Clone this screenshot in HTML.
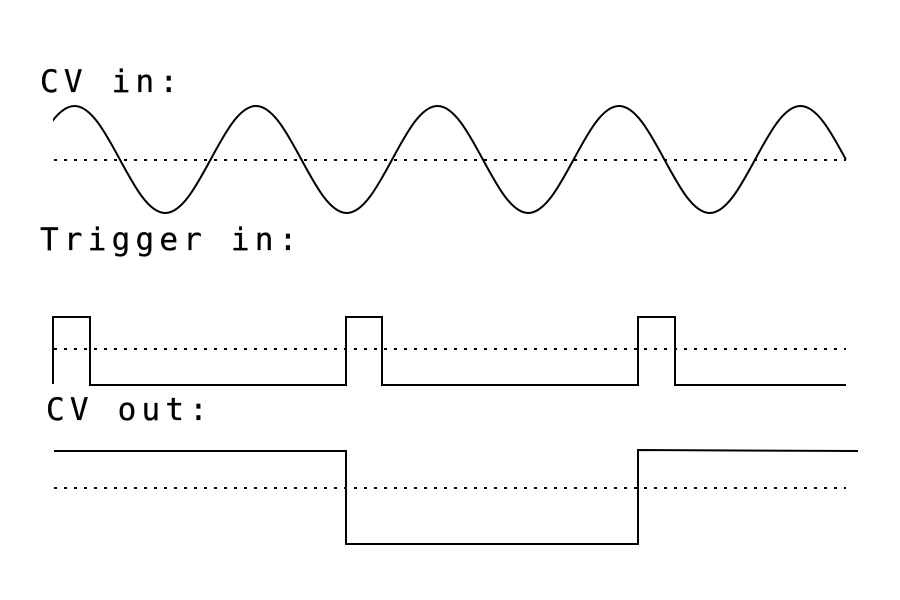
<!DOCTYPE html>
<html>
<head>
<meta charset="utf-8">
<style>
  html, body { margin: 0; padding: 0; background: #ffffff; }
  body { width: 900px; height: 600px; overflow: hidden; }
  svg { display: block; }
  text { font-family: "DejaVu Sans Mono", "Liberation Mono", monospace; font-size: 31px; letter-spacing: 5.2px; fill: #000; stroke: #000; stroke-width: 0.3px; }
</style>
</head>
<body>
<svg width="900" height="600" viewBox="0 0 900 600" xmlns="http://www.w3.org/2000/svg">
  <rect x="0" y="0" width="900" height="600" fill="#ffffff"/>
  <defs>
    <clipPath id="sineclip">
      <rect x="53" y="90" width="800" height="140"/>
    </clipPath>
  </defs>

  <!-- Labels -->
  <text x="40" y="92">CV in:</text>
  <text x="40" y="250">Trigger in:</text>
  <text x="46" y="420">CV out:</text>

  <!-- Dotted reference lines -->
  <g stroke="#000" stroke-width="2" stroke-dasharray="3 7" fill="none">
    <line x1="54" y1="160" x2="846" y2="160"/>
    <line x1="54" y1="349" x2="846" y2="349"/>
    <line x1="54" y1="488" x2="846" y2="488"/>
  </g>

  <!-- Sine wave -->
  <path clip-path="url(#sineclip)" fill="none" stroke="#000" stroke-width="2"
    d="M29.125,159.5
       c14.80,-27.41 28.95,-53.5 45.375,-53.5
       c16.43,0 30.58,26.09 45.375,53.5
       c14.80,27.41 28.95,53.5 45.375,53.5
       c16.43,0 30.58,-26.09 45.375,-53.5
       c14.80,-27.41 28.95,-53.5 45.375,-53.5
       c16.43,0 30.58,26.09 45.375,53.5
       c14.80,27.41 28.95,53.5 45.375,53.5
       c16.43,0 30.58,-26.09 45.375,-53.5
       c14.80,-27.41 28.95,-53.5 45.375,-53.5
       c16.43,0 30.58,26.09 45.375,53.5
       c14.80,27.41 28.95,53.5 45.375,53.5
       c16.43,0 30.58,-26.09 45.375,-53.5
       c14.80,-27.41 28.95,-53.5 45.375,-53.5
       c16.43,0 30.58,26.09 45.375,53.5
       c14.80,27.41 28.95,53.5 45.375,53.5
       c16.43,0 30.58,-26.09 45.375,-53.5
       c14.80,-27.41 28.95,-53.5 45.375,-53.5
       c16.43,0 30.58,26.09 45.375,53.5"/>

  <!-- Trigger pulses -->
  <polyline fill="none" stroke="#000" stroke-width="2" stroke-linejoin="miter"
    points="53,384 53,317 90,317 90,385 346,385 346,317 382,317 382,385 638,385 638,317 675,317 675,385 846,385"/>

  <!-- CV out -->
  <polyline fill="none" stroke="#000" stroke-width="2" stroke-linejoin="miter"
    points="54,451 346,451 346,544 638,544 638,450 858,451"/>
</svg>
</body>
</html>
